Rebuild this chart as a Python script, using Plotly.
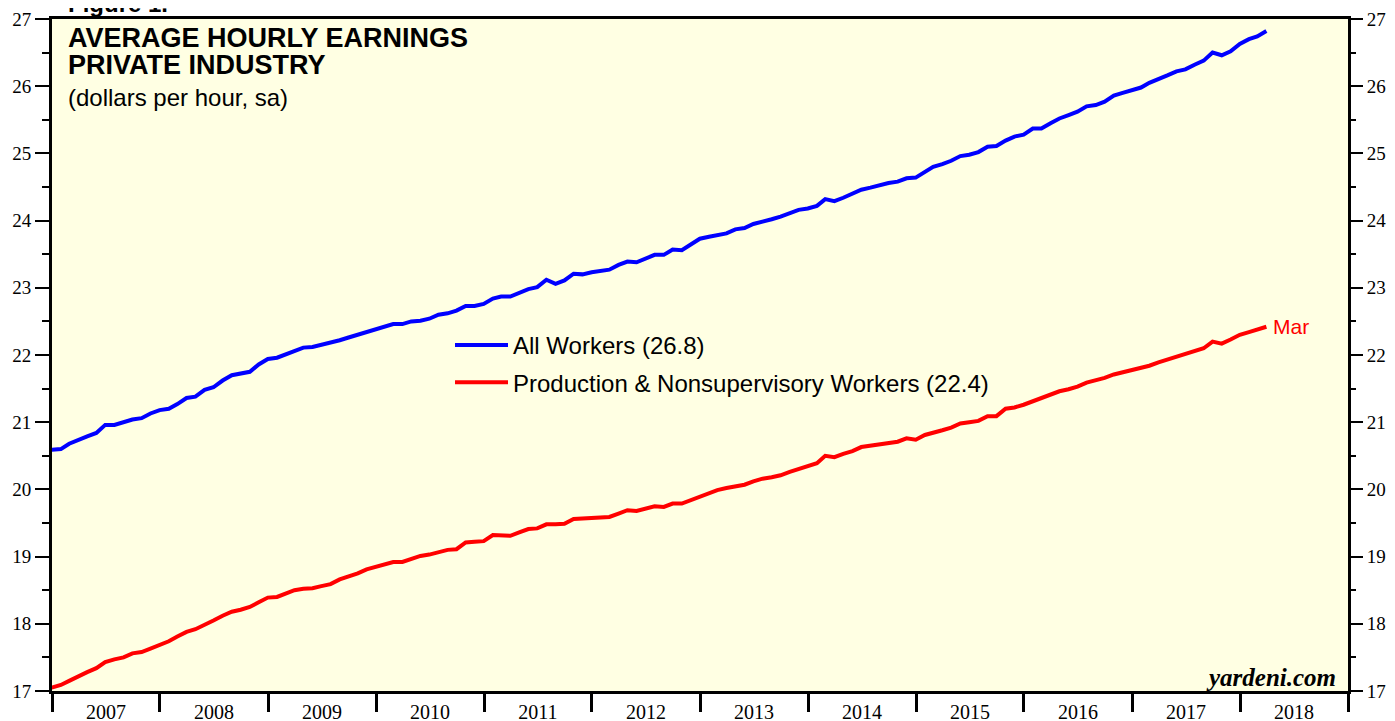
import plotly.graph_objects as go
import pandas as pd

# Monthly data, Dec 2006 .. Mar 2018 (values plotted at month end)
dates = pd.date_range("2006-12-31", "2018-03-31", freq="ME")

all_workers = [
    20.59,
    20.60, 20.68, 20.74, 20.79, 20.84, 20.96, 20.96, 21.00, 21.04, 21.06, 21.13, 21.18,
    21.20, 21.27, 21.36, 21.38, 21.48, 21.52, 21.62, 21.70, 21.72, 21.75, 21.86, 21.94,
    21.96, 22.01, 22.06, 22.11, 22.12, 22.15, 22.18, 22.22, 22.26, 22.30, 22.33, 22.37,
    22.41, 22.46, 22.46, 22.50, 22.51, 22.54, 22.60, 22.62, 22.66, 22.73, 22.73, 22.76,
    22.84, 22.87, 22.87, 22.92, 22.98, 23.01, 23.12, 23.06, 23.11, 23.21, 23.20, 23.23,
    23.25, 23.27, 23.34, 23.39, 23.38, 23.44, 23.49, 23.49, 23.57, 23.56, 23.64, 23.73,
    23.76, 23.79, 23.81, 23.87, 23.89, 23.95, 23.98, 24.02, 24.06, 24.11, 24.16, 24.18,
    24.22, 24.32, 24.29, 24.34, 24.40, 24.46, 24.49, 24.53, 24.56, 24.58, 24.63, 24.64,
    24.73, 24.80, 24.84, 24.89, 24.96, 24.98, 25.02, 25.10, 25.11, 25.19, 25.25, 25.28,
    25.37, 25.37, 25.45, 25.52, 25.57, 25.62, 25.70, 25.72, 25.77, 25.86, 25.90, 25.94,
    25.98, 26.05, 26.10, 26.16, 26.22, 26.25, 26.32, 26.38, 26.50, 26.46, 26.52, 26.63,
    26.70, 26.74, 26.82,
]

production = [
    17.05,
    17.09, 17.15, 17.22, 17.28, 17.34, 17.43, 17.47, 17.50, 17.56, 17.58, 17.63, 17.68,
    17.74, 17.81, 17.88, 17.92, 17.98, 18.05, 18.12, 18.18, 18.21, 18.25, 18.32, 18.39,
    18.40, 18.45, 18.50, 18.52, 18.53, 18.56, 18.59, 18.66, 18.70, 18.75, 18.81, 18.85,
    18.89, 18.92, 18.92, 18.96, 19.01, 19.03, 19.06, 19.10, 19.11, 19.21, 19.22, 19.23,
    19.32, 19.32, 19.31, 19.36, 19.41, 19.42, 19.48, 19.48, 19.49, 19.56, 19.57, 19.57,
    19.58, 19.59, 19.64, 19.69, 19.68, 19.71, 19.75, 19.74, 19.79, 19.79, 19.84, 19.89,
    19.94, 19.99, 20.02, 20.05, 20.07, 20.12, 20.16, 20.18, 20.21, 20.26, 20.30, 20.34,
    20.39, 20.50, 20.48, 20.53, 20.57, 20.63, 20.65, 20.67, 20.69, 20.71, 20.76, 20.74,
    20.81, 20.85, 20.88, 20.92, 20.98, 21.00, 21.02, 21.09, 21.09, 21.20, 21.22, 21.26,
    21.31, 21.35, 21.40, 21.46, 21.49, 21.53, 21.59, 21.62, 21.66, 21.71, 21.74, 21.78,
    21.81, 21.84, 21.89, 21.93, 21.97, 22.01, 22.05, 22.10, 22.20, 22.17, 22.23, 22.30,
    22.34, 22.38, 22.42,
]

names = ["All Workers (26.8)", "Production & Nonsupervisory Workers (22.4)"]
colors = ["#0000FF", "#FF0000"]
last_label = "Mar"

SANS = "Liberation Sans, Arial, sans-serif"
SERIF = "Liberation Serif, Times New Roman, serif"

fig = go.Figure()
fig.add_trace(go.Scatter(x=dates, y=all_workers, mode="lines", name=names[0],
                         legendgroup="a", line=dict(color=colors[0], width=4)))
fig.add_trace(go.Scatter(x=dates, y=production, mode="lines", name=names[1],
                         legendgroup="b", line=dict(color=colors[1], width=4)))
# invisible trace to carry the right-hand axis
fig.add_trace(go.Scatter(x=[dates[0]], y=[production[0]], yaxis="y2", mode="lines",
                         showlegend=False, hoverinfo="skip", line=dict(width=0)))

yaxis_common = dict(
    range=[17, 27], dtick=1, tick0=17, ticks="outside", ticklen=14, tickwidth=2,
    tickcolor="black", showgrid=False, zeroline=False, automargin=False,
    tickfont=dict(family=SERIF, size=19, color="black"),
    minor=dict(dtick=0.5, ticks="outside", ticklen=7, tickwidth=2, tickcolor="black",
               showgrid=False),
)

# the page places the figure 8px from the top-left corner of the window
fig.update_layout(
    width=1387, height=713,
    margin=dict(l=44, r=47, t=11, b=30, autoexpand=False),
    paper_bgcolor="white",
    plot_bgcolor="#FFFFE3",
    xaxis=dict(
        type="date", range=["2007-01-01", "2019-01-01"], automargin=False,
        tick0="2007-01-01", dtick="M12", tickformat="%Y", ticklabelmode="period",
        ticks="outside", ticklen=18, tickwidth=3, tickcolor="black",
        showline=True, linewidth=3, linecolor="black", mirror=True,
        showgrid=False, zeroline=False,
        tickfont=dict(family=SERIF, size=20, color="black"),
        ticklabelstandoff=-17,
    ),
    yaxis=dict(showline=True, linewidth=3, linecolor="black", mirror=True, **yaxis_common),
    yaxis2=dict(overlaying="y", side="right", showline=False, **yaxis_common),
    showlegend=True,
    legend=dict(
        x=(450 - 52) / 1296, y=(691 - 323) / 672, xanchor="left", yanchor="top",
        bgcolor="rgba(0,0,0,0)", font=dict(family=SANS, size=24, color="black"),
        traceorder="grouped", tracegroupgap=3, itemwidth=53,
    ),
)

fig.add_annotation(text="<b>Figure 1.</b>", xref="paper", yref="paper",
                   x=(66 - 52) / 1296, y=(691 - 19) / 672, xanchor="left", yanchor="bottom",
                   showarrow=False, font=dict(family=SANS, size=24, color="black"))
fig.add_annotation(text="<b>AVERAGE HOURLY EARNINGS</b>", xref="paper", yref="paper",
                   x=(66 - 52) / 1296, y=(691 - 38) / 672, xanchor="left", yanchor="middle",
                   showarrow=False, font=dict(family=SANS, size=27, color="black"))
fig.add_annotation(text="<b>PRIVATE INDUSTRY</b>", xref="paper", yref="paper",
                   x=(66 - 52) / 1296, y=(691 - 65) / 672, xanchor="left", yanchor="middle",
                   showarrow=False, font=dict(family=SANS, size=27, color="black"))
fig.add_annotation(text="(dollars per hour, sa)", xref="paper", yref="paper",
                   x=(66 - 52) / 1296, y=(691 - 97) / 672, xanchor="left", yanchor="middle",
                   showarrow=False, font=dict(family=SANS, size=24, color="black"))
fig.add_annotation(text=last_label, x=dates[-1], y=production[-1], xanchor="left",
                   yanchor="middle", xshift=5, showarrow=False,
                   font=dict(family=SANS, size=21, color=colors[1]))
fig.add_annotation(text="<b><i>yardeni.com</i></b>", xref="paper", yref="paper",
                   x=(1338 - 52) / 1296, y=(691 - 677) / 672, xanchor="right", yanchor="middle",
                   showarrow=False, font=dict(family=SERIF, size=25, color="black"))

fig.write_html("out.html")
